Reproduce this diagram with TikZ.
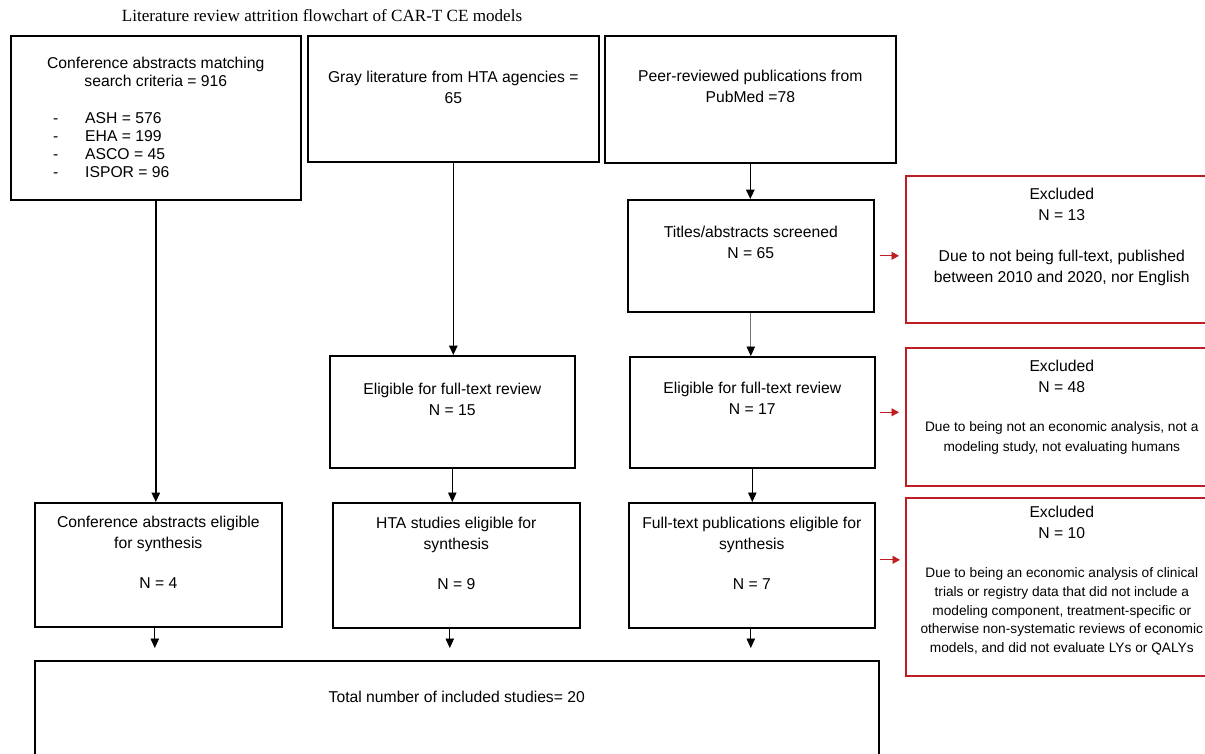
\documentclass[tikz,border=0pt]{standalone}
\usepackage{fontspec}
\setmainfont{Liberation Sans}
\newfontfamily\titlefont{Liberation Serif}
\usetikzlibrary{positioning,calc,arrows.meta}
\definecolor{exred}{RGB}{190,30,35}

\tikzset{
  box/.style={draw, line width=1.6pt, inner sep=0pt, anchor=north west},
  exbox/.style={box, draw=exred},
  txt/.style={font=\fontsize{15.7}{20.7}\selectfont, align=center, anchor=base, inner sep=0pt},
  smalltxt/.style={txt, font=\fontsize{13.7}{18.75}\selectfont},
  arr/.style={-{Triangle[width=8.5pt,length=9.5pt]}, line width=1.4pt},
  thinarr/.style={-{Triangle[width=8.5pt,length=9.5pt,black]}, line width=0.8pt},
  redarr/.style={-{Triangle[width=8pt,length=7.5pt]}, exred, line width=0.8pt}
}

\begin{document}
\begin{tikzpicture}[x=1pt, y=-1pt]
		\useasboundingbox (0,0) rectangle (1205,753);
		\clip (0,0) rectangle (1205,753);
		\node[anchor=base, inner sep=0pt, font=\titlefont\fontsize{17.1}{20}\selectfont] (title) at (322,21) {Literature review attrition flowchart of CAR-T CE models};

		\node[box, minimum width=290pt, minimum height=164pt] (A) at (10,35) {};
		\node[box, minimum width=291pt, minimum height=126pt] (B) at (307,35) {};
		\node[box, minimum width=291pt, minimum height=127pt] (C) at (604,35) {};
		\node[box, minimum width=246pt, minimum height=112pt] (D) at (627,199) {};
		\node[exbox, minimum width=312pt, minimum height=147pt] (X1) at (905,175) {};
		\node[box, minimum width=245pt, minimum height=112pt] (E) at (329,355) {};
		\node[box, minimum width=245pt, minimum height=111pt] (F) at (629,356) {};
		\node[exbox, minimum width=312pt, minimum height=138pt] (X2) at (905,347) {};
		\node[box, minimum width=247pt, minimum height=124pt] (G) at (34,502) {};
		\node[box, minimum width=247pt, minimum height=125pt] (H) at (332,502) {};
		\node[box, minimum width=246pt, minimum height=125pt] (I) at (628,502) {};
		\node[exbox, minimum width=312pt, minimum height=178pt] (X3) at (905,497) {};
		\node[box, minimum width=844pt, minimum height=130pt] (T) at (34,660) {};

		\node[txt, font=\fontsize{15.7}{18}\selectfont] (At) at ([yshift=-51pt]A.north) {Conference abstracts matching\\search criteria = 916};
		\node[txt, anchor=base west, align=left, font=\fontsize{15.7}{17.7}\selectfont] (Alist) at (53,177) {\makebox[32pt][l]{-}ASH = 576\\\makebox[32pt][l]{-}EHA = 199\\\makebox[32pt][l]{-}ASCO = 45\\\makebox[32pt][l]{-}ISPOR = 96};
		\node[txt] (Bt) at ([yshift=-68pt]B.north) {Gray literature from HTA agencies =\\65};
		\node[txt] (Ct) at ([yshift=-67pt]C.north) {Peer-reviewed publications from\\PubMed =78};
		\node[txt] (Dt) at ([yshift=-59pt]D.north) {Titles/abstracts screened\\N = 65};
		\node[txt] (X1t) at ([yshift=-45pt]X1.north) {Excluded\\N = 13};
		\node[txt] (X1d) at ([yshift=-107pt]X1.north) {Due to not being full-text, published\\between 2010 and 2020, nor English};
		\node[txt] (Et) at ([yshift=-60pt]E.north) {Eligible for full-text review\\N = 15};
		\node[txt] (Ft) at ([yshift=-58pt]F.north) {Eligible for full-text review\\N = 17};
		\node[txt] (X2t) at ([yshift=-45pt]X2.north) {Excluded\\N = 48};
		\node[smalltxt, font=\fontsize{13.7}{20}\selectfont] (X2d) at ([yshift=-104pt]X2.north) {Due to being not an economic analysis, not a\\modeling study, not evaluating humans};
		\node[txt] (Gt) at ([yshift=-86pt]G.north) {Conference abstracts eligible\\for synthesis\\[19pt]N = 4};
		\node[txt] (Ht) at ([yshift=-87pt]H.north) {HTA studies eligible for\\synthesis\\[19pt]N = 9};
		\node[txt] (It) at ([yshift=-87pt]I.north) {Full-text publications eligible for\\synthesis\\[19pt]N = 7};
		\node[txt] (X3t) at ([yshift=-41pt]X3.north) {Excluded\\N = 10};
		\node[smalltxt] (X3d) at ([yshift=-155.5pt]X3.north) {Due to being an economic analysis of clinical\\trials or registry data that did not include a\\modeling component, treatment-specific or\\otherwise non-systematic reviews of economic\\models, and did not evaluate LYs or QALYs};
		\node[txt] (Tt) at ([yshift=-42pt]T.north) {Total number of included studies= 20};

		\draw[arr] (A.south) -- (A.south |- G.north);
		\draw[arr] (B) -- (B |- E.north);
		\draw[arr] (C) -- (C |- D.north);
		\draw[thinarr, draw=black!55] (D) -- (D |- F.north);
		\draw[thinarr] (E) -- (E |- H.north);
		\draw[thinarr] (F) -- (F |- I.north);
		\draw[thinarr, shorten >=12pt] ([xshift=-3.5pt]G.south) -- ([xshift=-3.5pt]G.south |- T.north);
		\draw[thinarr, shorten >=12pt] ([xshift=-6.5pt]H.south) -- ([xshift=-6.5pt]H.south |- T.north);
		\draw[thinarr, shorten >=12pt] ([xshift=-1pt]I.south) -- ([xshift=-1pt]I.south |- T.north);
		\draw[redarr, shorten <=5pt, shorten >=6pt] (D.east) -- (D.east -| X1.west);
		\draw[redarr, shorten <=4pt, shorten >=6pt] (F.east) -- (F.east -| X2.west);
		\draw[redarr, shorten <=4pt, shorten >=5pt] ([yshift=5.5pt]I.east) -- ([yshift=5.5pt]I.east -| X3.west);
	\end{tikzpicture}
\end{document}
